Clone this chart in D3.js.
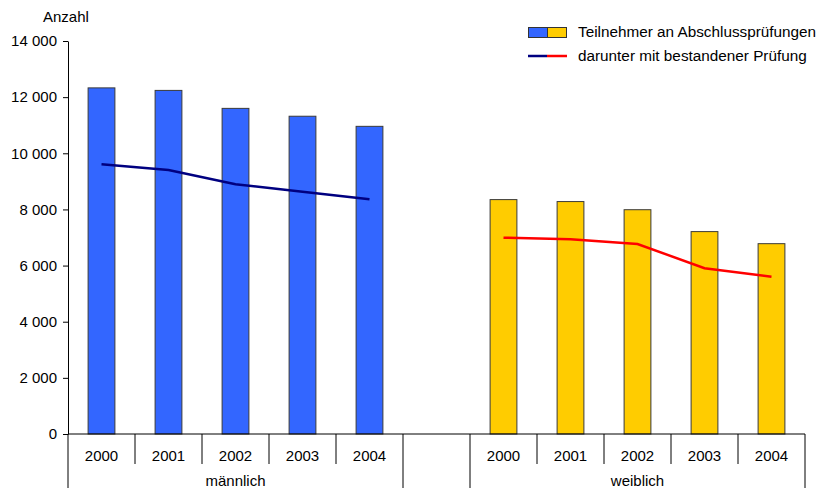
<!DOCTYPE html>
<html>
<head>
<meta charset="utf-8">
<script src="https://cdn.jsdelivr.net/npm/d3@7"></script>
<style>
  body { margin: 0; background: white; }
  text { font-family: "Liberation Sans", Arial, sans-serif; fill: #000; }
</style>
</head>
<body>
<div id="chart-area"></div>
<script>
// data
const years = ["2000", "2001", "2002", "2003", "2004"]
const groups = ["männlich", "", "weiblich"]
const maleTotal = [12330, 12240, 11600, 11320, 10960]
const malePassed = [9610, 9405, 8895, 8630, 8360]
const femaleTotal = [8350, 8280, 7990, 7210, 6780]
const femalePassed = [6995, 6935, 6770, 5905, 5605]
const yTicks = [0, 2000, 4000, 6000, 8000, 10000, 12000, 14000]

const width = 825, height = 488
const plot = {left: 68, right: 805, top: 41, bottom: 434}

const svg = d3.select("#chart-area").append("svg")
    .attr("width", width)
    .attr("height", height)

// 11 slots: 5 male years, one empty gap, 5 female years
const slots = years.map(y => "m" + y).concat(["gap"], years.map(y => "w" + y))

const x = d3.scaleBand()
    .domain(slots)
    .range([plot.left, plot.right])
    .padding(0)

const y = d3.scaleLinear()
    .domain([0, 14000])
    .range([plot.bottom, plot.top])

const fmt = d3.formatLocale({decimal: ",", thousands: " ", grouping: [3], currency: ["", ""]}).format(",")

// y axis
const yAxis = svg.append("g")
    .attr("transform", `translate(${plot.left}, 0)`)
    .call(d3.axisLeft(y).tickValues(yTicks).tickFormat(fmt).tickSize(5).tickSizeOuter(0).tickPadding(6))
yAxis.selectAll("text").attr("font-size", "15px").attr("fill", "#000")
yAxis.selectAll("line, path").attr("stroke", "#000")

// y label
svg.append("text")
    .attr("x", 43)
    .attr("y", 22)
    .attr("font-size", "15px")
    .text("Anzahl")

const maleRows = years.map((yr, i) => ({key: "m" + yr, year: yr, total: maleTotal[i], passed: malePassed[i]}))
const femaleRows = years.map((yr, i) => ({key: "w" + yr, year: yr, total: femaleTotal[i], passed: femalePassed[i]}))

const barW = x.bandwidth() * 0.4

const drawBars = (rows, color) => {
    svg.append("g").selectAll("rect")
        .data(rows)
        .join("rect")
        .attr("x", d => x(d.key) + (x.bandwidth() - barW) / 2)
        .attr("y", d => y(d.total))
        .attr("width", barW)
        .attr("height", d => y(0) - y(d.total))
        .attr("fill", color)
        .attr("stroke", "#3a3a3a")
        .attr("stroke-width", 1)
}
drawBars(maleRows, "#3366ff")
drawBars(femaleRows, "#ffcc00")

const line = d3.line()
    .x(d => x(d.key) + x.bandwidth() / 2)
    .y(d => y(d.passed))

svg.append("path").datum(maleRows)
    .attr("d", line).attr("fill", "none").attr("stroke", "#000080").attr("stroke-width", 2.5)
svg.append("path").datum(femaleRows)
    .attr("d", line).attr("fill", "none").attr("stroke", "#ff0000").attr("stroke-width", 2.5)

// x axis line
svg.append("line")
    .attr("x1", plot.left).attr("x2", plot.right)
    .attr("y1", plot.bottom).attr("y2", plot.bottom)
    .attr("stroke", "#000")

// category separators: short between years, long between groups
const groupEdges = ["m2000", "gap", "w2000"]
const edges = slots.map(s => x(s)).concat([plot.right])
svg.append("g").selectAll("line")
    .data(edges)
    .join("line")
    .attr("x1", d => d).attr("x2", d => d)
    .attr("y1", plot.bottom)
    .attr("y2", (d, i) => (i === edges.length - 1 || groupEdges.includes(slots[i])) ? height : 464)
    .attr("stroke", "#000")

// year labels
svg.append("g").selectAll("text")
    .data(maleRows.concat(femaleRows))
    .join("text")
    .attr("x", d => x(d.key) + x.bandwidth() / 2)
    .attr("y", 461)
    .attr("text-anchor", "middle")
    .attr("font-size", "15px")
    .text(d => d.year)

// group labels
const groupSpans = [["m2000", "m2004"], ["gap", "gap"], ["w2000", "w2004"]]
svg.append("g").selectAll("text")
    .data(groups)
    .join("text")
    .attr("x", (d, i) => (x(groupSpans[i][0]) + x(groupSpans[i][1]) + x.bandwidth()) / 2)
    .attr("y", 486)
    .attr("text-anchor", "middle")
    .attr("font-size", "15px")
    .text(d => d)

// legend
const lg = svg.append("g")
lg.append("rect").attr("x", 528.5).attr("y", 27.5).attr("width", 19).attr("height", 10)
    .attr("fill", "#3366ff").attr("stroke", "#333")
lg.append("rect").attr("x", 547.5).attr("y", 27.5).attr("width", 19).attr("height", 10)
    .attr("fill", "#ffcc00").attr("stroke", "#333")
lg.append("line").attr("x1", 528).attr("x2", 547).attr("y1", 56).attr("y2", 56)
    .attr("stroke", "#000080").attr("stroke-width", 2.5)
lg.append("line").attr("x1", 547).attr("x2", 567).attr("y1", 56).attr("y2", 56)
    .attr("stroke", "#ff0000").attr("stroke-width", 2.5)
lg.append("text").attr("x", 578).attr("y", 37).attr("font-size", "15.3px")
    .text("Teilnehmer an Abschlussprüfungen")
lg.append("text").attr("x", 578).attr("y", 61).attr("font-size", "15.3px")
    .text("darunter mit bestandener Prüfung")
</script>
</body>
</html>
